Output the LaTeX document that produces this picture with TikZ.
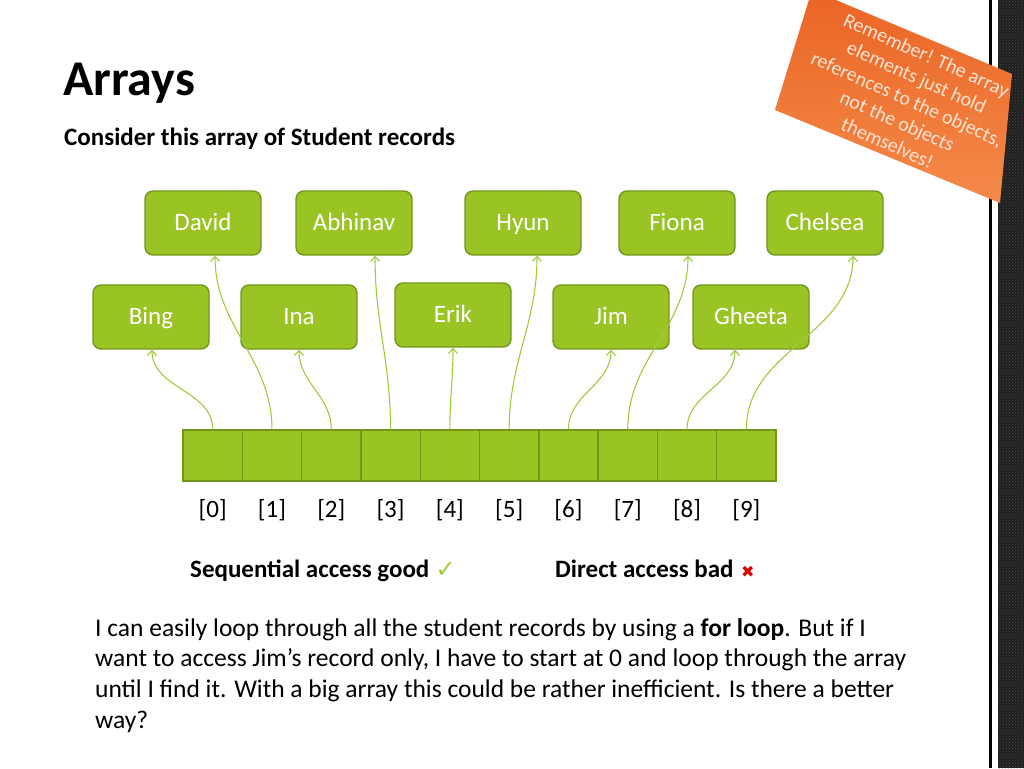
\documentclass[tikz,border=0pt]{standalone}
\usepackage{fontspec}
\setmainfont{Carlito}
\newfontfamily\symfont{DejaVu Sans}
\usetikzlibrary{arrows.meta,patterns}
\definecolor{recgreen}{RGB}{154,196,36}
\definecolor{recedge}{RGB}{114,150,28}
\definecolor{linkgreen}{RGB}{160,204,60}
\definecolor{noteorange}{RGB}{234,100,36}
\definecolor{notelight}{RGB}{244,138,74}
\definecolor{notetext}{RGB}{253,228,210}
\newcommand{\fsize}[2]{\fontsize{#1pt}{#2pt}\selectfont}

\begin{document}
\begin{tikzpicture}[x=1pt, y=1pt, every node/.style={inner sep=0pt}, >={Straight Barb[length=5pt,width=9pt]},
	student/.style={draw=recedge, line width=1.4pt, fill=recgreen, rounded corners=8pt, minimum width=116pt, minimum height=64pt, text height=16pt, text depth=0pt, text=white, font=\fsize{25}{30}},
	cell/.style={draw=recedge, line width=1.4pt, fill=recgreen, minimum width=59.3pt, minimum height=51pt},
	link/.style={linkgreen, line width=1.1pt, ->}]
	\useasboundingbox (0,0) rectangle (1024,768);
	\fill[white] (0,0) rectangle (1024,768);
	\fill[black] (989,0) rectangle (992,768);
	\fill[black!88] (998,0) rectangle (1024,768);
	\fill[pattern=crosshatch dots, pattern color=black!72] (998,0) rectangle (1024,768);
	\node[anchor=base west, font=\bfseries\fsize{50}{60}] (title) at (63,672) {Arrays};
	\node[anchor=base west, font=\bfseries\fsize{25}{30}] (sub) at (64,622) {Consider this array of Student records};
	\foreach \n/\x/\y/\t in {david/203/545/David, abhinav/354/545/Abhinav, hyun/523/545/Hyun, fiona/677/545/Fiona, chelsea/825/545/Chelsea,
		bing/151/451/Bing, ina/299/451/Ina, erik/453/453/Erik, jim/611/451/Jim, gheeta/751/451/Gheeta} {
		\node[student] (\n) at (\x,\y) {\t};
	}
	\foreach \i in {0,...,9} {
		\node[cell] (c\i) at (212.65+59.3*\i,312.5) {};
		\node[anchor=base, font=\fsize{25}{30}] (idx\i) at (212.65+59.3*\i,250) {[\i]};
	}
	\foreach \c/\s/\d in {0/bing/1, 1/david/12, 2/ina/0, 3/abhinav/21, 4/erik/0, 5/hyun/14, 6/jim/0, 7/fiona/11, 8/gheeta/-16, 9/chelsea/28} {
		\draw[link] (c\c.north) to[out=90, in=-90] ([xshift=\d pt]\s.south);
	}
	\node[anchor=base west, font=\bfseries\fsize{25}{30}] (seq) at (190,190) {Sequential access good};
	\node[anchor=base west, text=linkgreen, font=\symfont\fsize{24}{28}] (tick) at ([xshift=6pt]seq.base east) {✓};
	\node[anchor=base west, font=\bfseries\fsize{25}{30}] (direct) at (555,190) {Direct access bad};
	\node[anchor=base west, text=red!85!black, font=\symfont\fsize{16}{19}] (cross) at ([xshift=7pt]direct.base east) {✖};
	\node[anchor=north west, align=left, font=\fsize{25.5}{30.7}] (para) at (95,150) {I can easily loop through all the student records by using a \textbf{for loop}. But if I\\
		want to access Jim’s record only, I have to start at 0 and loop through the array\\
		until I find it. With a big array this could be rather inefficient. Is there a better\\
		way?};
	\shade[top color=noteorange, bottom color=notelight] (812,778) -- (1012,694) -- (1000,565) -- (775,658) -- cycle;
	\node[rotate=-24, align=center, text=notetext, font=\fsize{20}{24}] (note) at (907,669) {Remember! The array\\
		elements just hold\\
		references to the objects,\\
		not the objects\\
		themselves!};
\end{tikzpicture}
\end{document}
